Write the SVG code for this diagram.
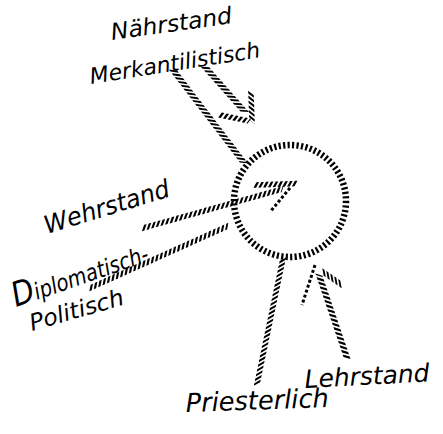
<svg xmlns="http://www.w3.org/2000/svg" width="443" height="434" viewBox="0 0 443 434">
<style>
.h{fill:none;stroke:#000;stroke-width:5.5;stroke-dasharray:2.6 2.2;stroke-linecap:butt}
.hw{fill:none;stroke:#000;stroke-width:6;stroke-dasharray:2.7 2.1;stroke-linecap:butt}
.d{fill:none;stroke:#000;stroke-width:3;stroke-dasharray:3 2.2;stroke-linecap:butt}
.c{fill:none;stroke:#000;stroke-width:6.5;stroke-dasharray:2.2 2.3}
text{font-family:"DejaVu Sans","Liberation Sans",sans-serif;font-style:oblique;fill:#000}
</style>
<rect width="443" height="434" fill="#fff"/>
<g id="connectors">
<line class="hw" x1="0" y1="0" x2="117" y2="0" transform="translate(173,70) rotate(52.6) skewX(-45)"/>
<line class="hw" x1="0" y1="0" x2="60" y2="0" transform="translate(205,67) rotate(48.4) skewX(-45)"/>
<line class="h" x1="0" y1="0" x2="29" y2="0" transform="translate(251,93) rotate(88) skewX(-40)"/>
<line class="h" x1="0" y1="0" x2="30" y2="0" transform="translate(220,115) rotate(11.7) skewX(-25)"/>
<line class="h" x1="0" y1="0" x2="145" y2="0" transform="translate(143,228) rotate(-15.6) skewX(-35)"/>
<line class="h" x1="0" y1="0" x2="151" y2="0" transform="translate(90,288) rotate(-24.2) skewX(-35)"/>
<line class="h" x1="0" y1="0" x2="43" y2="0" transform="translate(255,185) rotate(-2) skewX(-30)"/>
<line class="d" x1="0" y1="0" x2="31" y2="0" transform="translate(290,188) rotate(129.8)"/>
<line class="h" x1="0" y1="0" x2="129" y2="0" transform="translate(257,384) rotate(-78.3) skewX(42)"/>
<line class="hw" x1="0" y1="0" x2="88" y2="0" transform="translate(347,358) rotate(-108.6) skewX(-35)"/>
<line class="d" x1="0" y1="0" x2="42" y2="0" transform="translate(315,265) rotate(108)"/>
<line class="h" x1="0" y1="0" x2="23" y2="0" transform="translate(323,272) rotate(34.4) skewX(45)"/>
</g>
<g id="circle">
<circle class="c" cx="290" cy="201" r="56"/>
</g>
<g id="naehrstand">
<text x="112" y="40" font-size="23" textLength="122" lengthAdjust="spacingAndGlyphs" transform="rotate(-8 112 40)">Nährstand</text>
<text x="91" y="84" font-size="22" textLength="172" lengthAdjust="spacingAndGlyphs" transform="rotate(-9 91 84)">Merkantilistisch</text>
</g>
<g id="wehrstand">
<text x="47" y="234" font-size="25" textLength="130" lengthAdjust="spacingAndGlyphs" transform="rotate(-17 47 234)">Wehrstand</text>
</g>
<g id="diplomatisch">
<text x="16" y="307" font-size="23" textLength="142" lengthAdjust="spacingAndGlyphs" transform="rotate(-19 16 307)"><tspan font-size="34">D</tspan>iplomatisch-</text>
<text x="32" y="331" font-size="23" textLength="97" lengthAdjust="spacingAndGlyphs" transform="rotate(-16 32 331)">Politisch</text>
</g>
<g id="lehrstand">
<text x="305" y="388" font-size="25" textLength="125" lengthAdjust="spacingAndGlyphs" transform="rotate(-3 305 388)">Lehrstand</text>
</g>
<g id="priesterlich">
<text x="186" y="412" font-size="26" textLength="143" lengthAdjust="spacingAndGlyphs" transform="rotate(-2 186 412)">Priesterlich</text>
</g>
</svg>
